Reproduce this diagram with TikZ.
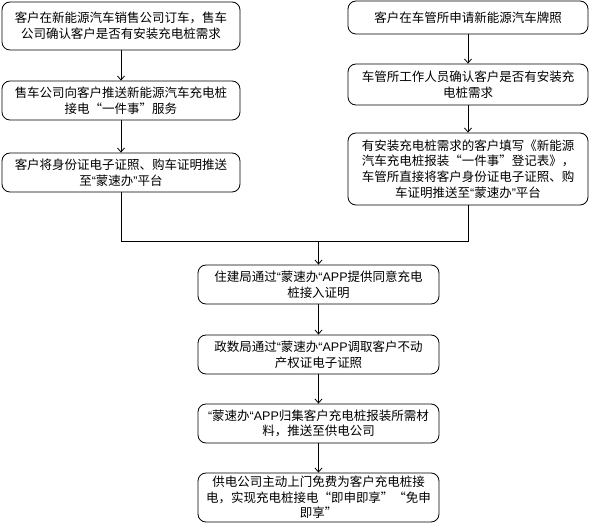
\documentclass[tikz,border=0pt]{standalone}
\usepackage{fontspec}
\setmainfont{Noto Sans CJK SC}
\newfontfamily\narrowq{Liberation Sans}
\usepackage{tikz}
\usetikzlibrary{arrows.meta,positioning,calc}

% narrow quotes around the platform name
\newcommand{\msb}[1]{{\narrowq “}蒙速办{\narrowq #1}}

\begin{document}
\begin{tikzpicture}[
			x=1pt, y=-1pt,
			font=\fontsize{12.5}{15.7}\selectfont,
			>={Straight Barb[length=4pt,width=7pt]},
			stepblock/.style={draw, line width=0.8pt, rounded corners=8pt, inner sep=0pt, align=center},
			leftblock/.style={stepblock, minimum width=238pt},
			rightblock/.style={stepblock, minimum width=240pt},
			midblock/.style={stepblock, minimum width=241pt},
			arrow/.style={line width=0.8pt,->},
			joinline/.style={line width=0.8pt}
			]
			
			\useasboundingbox (0,0) rectangle (590,524);
			
			% LEFT BRANCH (dealer)
			\node[leftblock, minimum height=48pt] (sale1) at (121,26) {客户在新能源汽车销售公司订车，售车\\公司确认客户是否有安装充电桩需求};
			\node[leftblock, minimum height=39pt] (sale2) at (121,100.5) {售车公司向客户推送新能源汽车充电桩\\接电“一件事”服务};
			\node[leftblock, minimum height=39pt] (sale3) at (121,172.5) {客户将身份证电子证照、购车证明推送\\至\msb{”}平台};
			
			% RIGHT BRANCH (vehicle office)
			\node[rightblock, minimum height=33pt] (dmv1) at (468,17.5) {客户在车管所申请新能源汽车牌照};
			\node[rightblock, minimum height=41pt] (dmv2) at (468,84.5) {车管所工作人员确认客户是否有安装充\\电桩需求};
			\node[rightblock, minimum height=72pt] (dmv3) at (468,169) {有安装充电桩需求的客户填写《新能源\\汽车充电桩报装“一件事”登记表》，\\车管所直接将客户身份证电子证照、购\\车证明推送至\msb{”}平台};
			
			% CENTER (joint steps)
			\coordinate (merge) at (318.5,241.5);
			\node[midblock, minimum height=39pt] (house) at (318.5,284.5) {住建局通过\msb{“APP}提供同意充电\\桩接入证明};
			\node[midblock, minimum height=39pt] (data) at (318.5,354.5) {政数局通过\msb{“APP}调取客户不动\\产权证电子证照};
			\node[midblock, minimum height=39pt] (app) at (318.5,423.5) {\msb{“APP}归集客户充电桩报装所需材\\料，推送至供电公司};
			\node[midblock, minimum height=49pt] (power) at (318.5,497.5) {供电公司主动上门免费为客户充电桩接\\电，实现充电桩接电“即申即享”“免申\\即享”};
			
			% Branch flows
			\draw[arrow] (sale1) -- (sale2);
			\draw[arrow] (sale2) -- (sale3);
			\draw[arrow] (dmv1) -- (dmv2);
			\draw[arrow] (dmv2) -- (dmv3);
			
			% Merge
			\draw[joinline] (sale3.south) |- (merge) -| (dmv3.south);
			\draw[arrow] (merge) -- (house);
			
			% Joint flow
			\draw[arrow] (house) -- (data);
			\draw[arrow] (data) -- (app);
			\draw[arrow] (app) -- (power);
			
		\end{tikzpicture}
\end{document}
